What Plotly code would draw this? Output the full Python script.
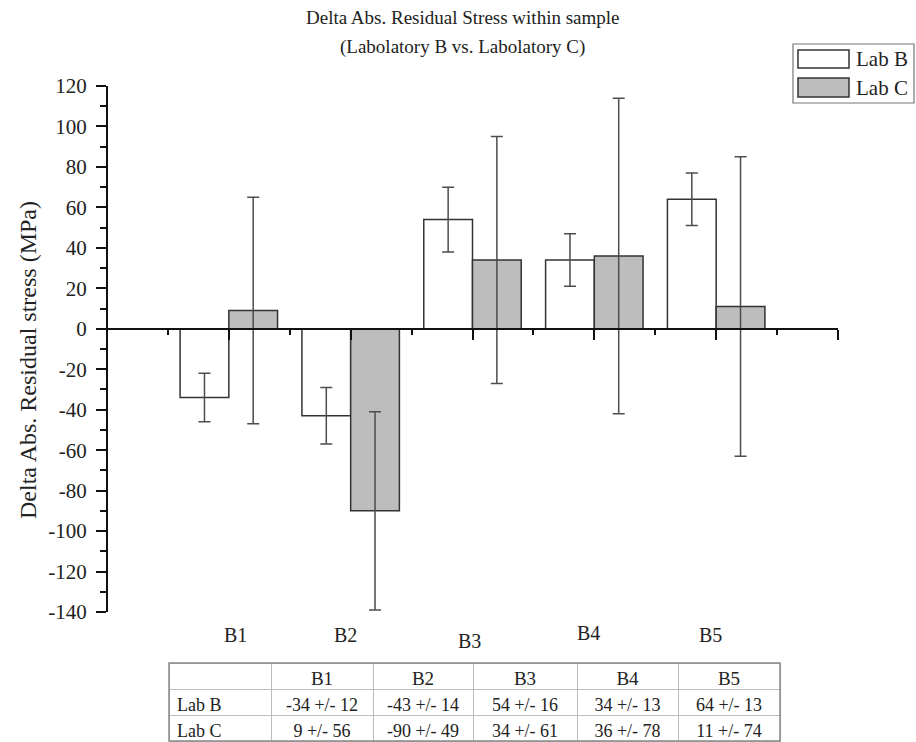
import plotly.graph_objects as go

# ---------------- data ----------------
categories = ["B1", "B2", "B3", "B4", "B5"]
series_names = ["Lab B", "Lab C"]
lab_b = [-34, -43, 54, 34, 64]
lab_b_err = [12, 14, 16, 13, 13]
lab_c = [9, -90, 34, 36, 11]
lab_c_err = [56, 49, 61, 78, 74]
y_ticks = [-140, -120, -100, -80, -60, -40, -20, 0, 20, 40, 60, 80, 100, 120]
title_lines = ["Delta Abs. Residual Stress within sample", "(Labolatory B vs. Labolatory C)"]
y_title = "Delta Abs. Residual stress (MPa)"

# ---------------- layout helpers ----------------
W, H = 916, 742
L, R, T, B = 107, 78, 86, 0
plot_w = W - L - R
plot_h = H - T - B
FONT = "Liberation Serif, Times New Roman, serif"
TXT = "#222"


def px_x(p):
    return (p - L) / plot_w


def px_y(p):
    return (H - B - p) / plot_h


ymin, ymax = y_ticks[0], y_ticks[-1]
dom_bottom = px_y(612)
zero_pos = dom_bottom + (0 - ymin) / (ymax - ymin) * (1 - dom_bottom)

pos = [i + 1 for i in range(len(categories))]

fig = go.Figure()
fig.add_trace(go.Bar(
    x=pos, y=lab_b, name=series_names[0], showlegend=False,
    marker=dict(color="white", line=dict(color="#333", width=1.5)),
    error_y=dict(type="data", array=lab_b_err, color="#4d4d4d", thickness=1.5, width=6),
))
fig.add_trace(go.Bar(
    x=pos, y=lab_c, name=series_names[1], showlegend=False,
    marker=dict(color="#bdbdbd", line=dict(color="#333", width=1.5)),
    error_y=dict(type="data", array=lab_c_err, color="#4d4d4d", thickness=1.5, width=6),
))

# table
cell_cols = [series_names]
for i in range(len(categories)):
    cell_cols.append([f"{lab_b[i]} +/- {lab_b_err[i]}", f"{lab_c[i]} +/- {lab_c_err[i]}"])

fig.add_trace(go.Table(
    domain=dict(x=[px_x(169), px_x(780)], y=[0, px_y(663)]),
    columnwidth=[102, 102, 100, 104, 101, 102],
    header=dict(values=[""] + categories, height=26,
                align="center", fill_color="white",
                line=dict(color="#bbb", width=1),
                font=dict(family=FONT, size=19, color=TXT)),
    cells=dict(values=cell_cols, height=26,
               align=["left"] + ["center"] * len(categories),
               fill_color="white",
               line=dict(color="#bbb", width=1),
               font=dict(family=FONT, size=18, color=TXT)),
))

annotations = []
# title (two lines)
for line, yc in zip(title_lines, [18, 47]):
    annotations.append(dict(
        x=px_x(462), y=px_y(yc), xref="paper", yref="paper", text=line, showarrow=False,
        font=dict(family=FONT, size=19, color=TXT), xanchor="center", yanchor="middle"))

# category labels under the plot
label_nudge = [(7, 0), (-5, 0), (-3, -6), (-6, 2), (-6, 0)]
for i, c in enumerate(categories):
    annotations.append(dict(
        x=pos[i], xref="x", y=px_y(635), yref="paper", text=c, showarrow=False,
        xshift=label_nudge[i][0], yshift=label_nudge[i][1],
        font=dict(family=FONT, size=20, color=TXT), xanchor="center", yanchor="middle"))

# y axis title
annotations.append(dict(
    x=px_x(28), y=px_y(360), xref="paper", yref="paper",
    text=y_title, textangle=-90, showarrow=False,
    font=dict(family=FONT, size=24, color=TXT), xanchor="center", yanchor="middle"))

# custom legend + table outer frame
shapes = [
    dict(type="rect", xref="paper", yref="paper", x0=px_x(793), x1=px_x(914),
         y0=px_y(103), y1=px_y(44), line=dict(color="#777", width=1.2), fillcolor="white"),
    dict(type="rect", xref="paper", yref="paper", x0=px_x(798), x1=px_x(849),
         y0=px_y(68), y1=px_y(50), line=dict(color="#333", width=1.5), fillcolor="white"),
    dict(type="rect", xref="paper", yref="paper", x0=px_x(798), x1=px_x(849),
         y0=px_y(97), y1=px_y(78), line=dict(color="#333", width=1.5), fillcolor="#bdbdbd"),
    dict(type="rect", xref="paper", yref="paper", x0=px_x(169), x1=px_x(780),
         y0=px_y(741), y1=px_y(663), line=dict(color="#888", width=1.5), layer="above"),
]
for name, yc in zip(series_names, [59, 88]):
    annotations.append(dict(
        x=px_x(854), y=px_y(yc), xref="paper", yref="paper", text=name, showarrow=False,
        font=dict(family=FONT, size=21, color=TXT), xanchor="left", yanchor="middle"))

fig.update_layout(
    width=W, height=H, autosize=False,
    margin=dict(l=L, r=R, t=T, b=B, pad=0, autoexpand=False),
    paper_bgcolor="white", plot_bgcolor="white",
    barmode="group", bargap=0.2, bargroupgap=0,
    xaxis=dict(range=[0, 6], domain=[0, 1], anchor="free", position=zero_pos,
               showline=True, linecolor="#111", linewidth=2,
               ticks="outside", tickmode="linear", tick0=0, dtick=1,
               ticklen=10, tickwidth=2, tickcolor="#111",
               minor=dict(ticks="outside", dtick=0.5, ticklen=5, tickwidth=2, tickcolor="#111"),
               showticklabels=False, showgrid=False, zeroline=False, automargin=False),
    yaxis=dict(range=[ymin, ymax], domain=[dom_bottom, 1], anchor="free", position=0,
               showline=True, linecolor="#111", linewidth=2,
               tickmode="array", tickvals=y_ticks, ticktext=[str(v) for v in y_ticks],
               ticks="outside", ticklen=10, tickwidth=2, tickcolor="#111",
               minor=dict(ticks="outside", tick0=0, dtick=10, ticklen=6, tickwidth=1.5, tickcolor="#111"),
               tickfont=dict(family=FONT, size=21, color=TXT), ticklabelstandoff=5,
               showgrid=False, zeroline=False, automargin=False),
    shapes=shapes,
    annotations=annotations,
)

fig.write_html("out.html")
